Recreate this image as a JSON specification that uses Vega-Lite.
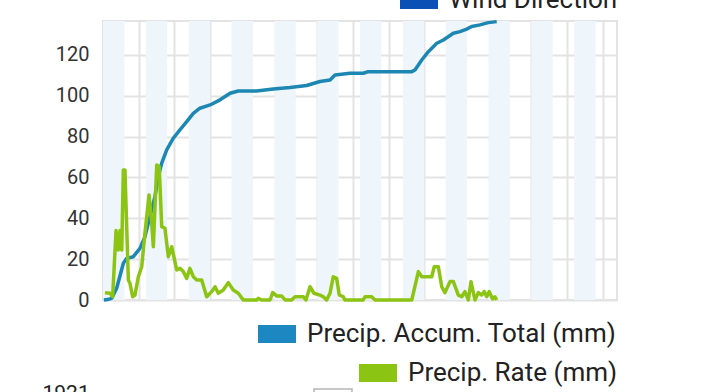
{
  "$schema": "https://vega.github.io/schema/vega-lite/v6.json",
  "width": 514,
  "height": 279,
  "autosize": {"type": "none"},
  "padding": {"left": 103, "top": 21, "right": 103, "bottom": 92},
  "background": "white",
  "config": {
    "font": "Roboto",
    "view": {"stroke": "#e3e3e3", "strokeWidth": 2},
    "axisX": {
      "values": [0, 36, 72, 108, 144, 180, 216, 252, 288],
      "labels": false, "ticks": false, "domain": false, "grid": true,
      "gridColor": "#e3e3e3", "gridWidth": 2,
      "titleFont": "Roboto", "titleFontSize": 21, "titleFontWeight": "normal", "titleColor": "#222222",
      "titleAnchor": "start", "titleAlign": "left", "titleBaseline": "alphabetic",
      "titleX": -61, "titleY": 99
    },
    "legend": {
      "orient": "none",
      "padding": 0,
      "symbolType": "M-1,-0.474H1V0.474H-1Z",
      "symbolSize": 1444,
      "symbolStrokeWidth": 0,
      "labelFont": "Roboto",
      "labelFontSize": 26,
      "labelColor": "#222222",
      "labelOffset": 11,
      "labelLimit": 500
    }
  },
  "datasets": {
    "bands": [
      {"s": 0, "e": 12}, {"s": 24, "e": 36}, {"s": 48, "e": 60}, {"s": 72, "e": 84},
      {"s": 96, "e": 108}, {"s": 120, "e": 132}, {"s": 144, "e": 156}, {"s": 168, "e": 180},
      {"s": 192, "e": 204}, {"s": 216, "e": 228}, {"s": 240, "e": 252}, {"s": 264, "e": 276}
    ],
    "accum": [
      {"t": 0.5, "v": 0}, {"t": 2.5, "v": 0.2}, {"t": 4.9, "v": 0.8}, {"t": 7.7, "v": 5.9},
      {"t": 11.4, "v": 18}, {"t": 13.3, "v": 20.4}, {"t": 17, "v": 21.2}, {"t": 20.7, "v": 25.3},
      {"t": 23.5, "v": 31}, {"t": 26.3, "v": 40.8}, {"t": 29.1, "v": 50.6}, {"t": 31, "v": 60.4},
      {"t": 32.9, "v": 67}, {"t": 35.7, "v": 73.5}, {"t": 39.4, "v": 79.2}, {"t": 43.1, "v": 83.3},
      {"t": 46.9, "v": 87.3}, {"t": 50.6, "v": 91.4}, {"t": 54.3, "v": 93.9}, {"t": 60, "v": 95.5},
      {"t": 65.6, "v": 98}, {"t": 71.2, "v": 101.2}, {"t": 75.8, "v": 102.3}, {"t": 86.1, "v": 102.3},
      {"t": 95.4, "v": 103.3}, {"t": 104.8, "v": 104}, {"t": 114.1, "v": 105}, {"t": 121.6, "v": 107},
      {"t": 127.2, "v": 107.7}, {"t": 130, "v": 110.2}, {"t": 138.4, "v": 111}, {"t": 145.8, "v": 111},
      {"t": 148.6, "v": 111.8}, {"t": 173, "v": 111.8}, {"t": 174.8, "v": 112.6}, {"t": 178.6, "v": 117.5},
      {"t": 182.3, "v": 121.6}, {"t": 187, "v": 125.7}, {"t": 190.7, "v": 127.3}, {"t": 196.3, "v": 130.6},
      {"t": 200, "v": 131.4}, {"t": 203.8, "v": 132.6}, {"t": 206.6, "v": 133.9}, {"t": 211.2, "v": 134.7},
      {"t": 215.9, "v": 135.8}, {"t": 220.6, "v": 136.3}
    ],
    "rate": [
      {"t": 1.1, "v": 3.6}, {"t": 3.9, "v": 3.3}, {"t": 5.4, "v": 1.6}, {"t": 7.3, "v": 34},
      {"t": 8.6, "v": 24.5}, {"t": 9.5, "v": 34}, {"t": 10.5, "v": 24.5}, {"t": 11.4, "v": 63.7},
      {"t": 12.3, "v": 63.7}, {"t": 14.2, "v": 9.8}, {"t": 15.1, "v": 8.2}, {"t": 16.6, "v": 1.6},
      {"t": 17.9, "v": 2.4}, {"t": 19.8, "v": 11.4}, {"t": 21.7, "v": 16.3}, {"t": 23.5, "v": 32.7},
      {"t": 25.8, "v": 51.4}, {"t": 27.3, "v": 37.6}, {"t": 28.2, "v": 26.1}, {"t": 30.1, "v": 66.1},
      {"t": 31.5, "v": 65.3}, {"t": 32.9, "v": 35.9}, {"t": 34.7, "v": 35.1}, {"t": 36.6, "v": 21.2},
      {"t": 38.5, "v": 26.1}, {"t": 41.3, "v": 14.7}, {"t": 43.1, "v": 15.5}, {"t": 45, "v": 13.9},
      {"t": 46.9, "v": 10.6}, {"t": 48.7, "v": 15.5}, {"t": 50.6, "v": 11.4}, {"t": 52.5, "v": 9.8},
      {"t": 55.3, "v": 9.8}, {"t": 58.1, "v": 1.6}, {"t": 60.9, "v": 4.1}, {"t": 62.8, "v": 6.5},
      {"t": 64.6, "v": 3.3}, {"t": 67.4, "v": 4.9}, {"t": 70.2, "v": 8.5}, {"t": 73, "v": 4.9},
      {"t": 75.8, "v": 3.3}, {"t": 78.6, "v": 0}, {"t": 86.1, "v": 0}, {"t": 87, "v": 0.8},
      {"t": 88.9, "v": 0}, {"t": 93.6, "v": 0}, {"t": 95.1, "v": 3.6}, {"t": 97.3, "v": 2},
      {"t": 100.1, "v": 2}, {"t": 102, "v": 0}, {"t": 105.7, "v": 0}, {"t": 107.6, "v": 1.6},
      {"t": 112.2, "v": 1.6}, {"t": 113.7, "v": 0}, {"t": 116, "v": 6.5}, {"t": 118.2, "v": 3.3},
      {"t": 121.6, "v": 2.4}, {"t": 123.4, "v": 1.6}, {"t": 125.3, "v": 0}, {"t": 127.2, "v": 3.3},
      {"t": 129, "v": 11.4}, {"t": 130.9, "v": 10.6}, {"t": 132.4, "v": 2.4}, {"t": 134.6, "v": 1.6},
      {"t": 135.5, "v": 0}, {"t": 145.8, "v": 0}, {"t": 146.8, "v": 1.6}, {"t": 150.5, "v": 1.6},
      {"t": 152.4, "v": 0}, {"t": 173, "v": 0}, {"t": 176.7, "v": 13.9}, {"t": 178.6, "v": 11.4},
      {"t": 184.2, "v": 11.4}, {"t": 185.6, "v": 16.3}, {"t": 187.9, "v": 16.3}, {"t": 189.8, "v": 6.5},
      {"t": 191.6, "v": 3.6}, {"t": 194.4, "v": 9}, {"t": 196.3, "v": 9}, {"t": 199.1, "v": 2.4},
      {"t": 201, "v": 1.6}, {"t": 202.8, "v": 4.1}, {"t": 204.7, "v": 0}, {"t": 206.2, "v": 9},
      {"t": 208.4, "v": 0}, {"t": 210.3, "v": 3.6}, {"t": 212.2, "v": 2.4}, {"t": 213.6, "v": 4.1},
      {"t": 215, "v": 1.6}, {"t": 216.4, "v": 4.1}, {"t": 218.3, "v": 0.5}, {"t": 219.6, "v": 1.6},
      {"t": 220.6, "v": 0}
    ]
  },
  "resolve": {"scale": {"color": "independent"}, "legend": {"color": "independent"}},
  "layer": [
    {
      "data": {"name": "bands"},
      "mark": {"type": "rect", "fill": "#eef5fb"},
      "encoding": {
        "x": {"field": "s", "type": "quantitative", "scale": {"domain": [0, 288], "nice": false, "zero": false}, "axis": {"title": "1921"}},
        "x2": {"field": "e"}
      }
    },
    {
      "data": {"name": "accum"},
      "mark": {"type": "line", "stroke": "#1c87b3", "strokeWidth": 3.5, "strokeJoin": "round"},
      "encoding": {
        "x": {"field": "t", "type": "quantitative", "scale": {"domain": [0, 288], "nice": false, "zero": false}, "axis": {"title": "1921"}},
        "y": {"field": "v", "type": "quantitative", "scale": {"domain": [0, 136.6], "nice": false},
              "axis": {"values": [0, 20, 40, 60, 80, 100, 120], "title": null, "domain": false, "ticks": false, "labelPadding": 14, "labelFontSize": 20, "labelColor": "#333333", "labelFont": "Roboto", "gridColor": "#e3e3e3", "gridWidth": 2}},
        "color": {"datum": "Precip. Accum. Total (mm)", "type": "nominal", "scale": {"range": ["#1c87b3"]},
                  "legend": {"title": null, "legendX": 155, "legendY": 294, "symbolFillColor": "#1c87c0"}}
      }
    },
    {
      "data": {"name": "rate"},
      "mark": {"type": "line", "stroke": "#8cc414", "strokeWidth": 3.5, "strokeJoin": "round"},
      "encoding": {
        "x": {"field": "t", "type": "quantitative", "scale": {"domain": [0, 288], "nice": false, "zero": false}, "axis": {"title": "1921"}},
        "y": {"field": "v", "type": "quantitative", "scale": {"domain": [0, 136.6], "nice": false},
              "axis": {"values": [0, 20, 40, 60, 80, 100, 120], "title": null, "domain": false, "ticks": false, "labelPadding": 14, "labelFontSize": 20, "labelColor": "#333333", "labelFont": "Roboto", "gridColor": "#e3e3e3", "gridWidth": 2}},
        "color": {"datum": "Precip. Rate (mm)", "type": "nominal", "scale": {"range": ["#8cc414"]},
                  "legend": {"title": null, "legendX": 256, "legendY": 333, "symbolFillColor": "#8cc414"}}
      }
    },
    {
      "data": {"values": []},
      "mark": {"type": "line", "strokeWidth": 0},
      "encoding": {
        "x": {"field": "t", "type": "quantitative", "scale": {"domain": [0, 288], "nice": false, "zero": false}, "axis": {"title": "1921"}},
        "y": {"field": "v", "type": "quantitative", "scale": {"domain": [0, 136.6], "nice": false},
              "axis": {"values": [0, 20, 40, 60, 80, 100, 120], "title": null, "domain": false, "ticks": false, "labelPadding": 14, "labelFontSize": 20, "labelColor": "#333333", "labelFont": "Roboto", "gridColor": "#e3e3e3", "gridWidth": 2}},
        "color": {"datum": "Wind Direction", "type": "nominal", "scale": {"range": ["#0b50b5"]},
                  "legend": {"title": null, "legendX": 297, "legendY": -40, "symbolFillColor": "#0b50b5"}}
      }
    },
    {
      "data": {"values": []},
      "mark": {"type": "line", "strokeWidth": 0},
      "encoding": {
        "x": {"field": "t", "type": "quantitative", "scale": {"domain": [0, 288], "nice": false, "zero": false}, "axis": {"title": "1921"}},
        "y": {"field": "v", "type": "quantitative", "scale": {"domain": [0, 136.6], "nice": false},
              "axis": {"values": [0, 20, 40, 60, 80, 100, 120], "title": null, "domain": false, "ticks": false, "labelPadding": 14, "labelFontSize": 20, "labelColor": "#333333", "labelFont": "Roboto", "gridColor": "#e3e3e3", "gridWidth": 2}},
        "color": {"datum": "next", "type": "nominal", "scale": {"range": ["#b5b5b5"]},
                  "legend": {"title": null, "legendX": 210, "legendY": 357, "labelExpr": "''", "symbolFillColor": "#ffffff", "symbolStrokeWidth": 1.5}}
      }
    }
  ]
}
